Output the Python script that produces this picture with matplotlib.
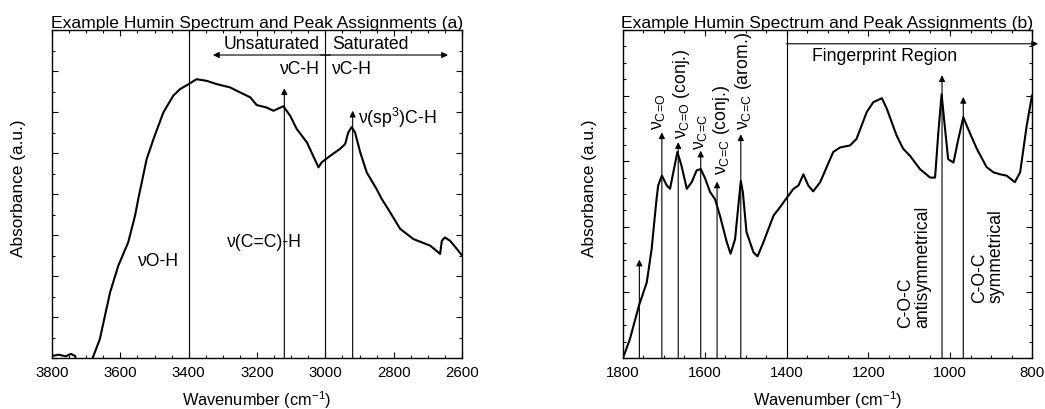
import matplotlib
matplotlib.use("Agg")
import matplotlib.pyplot as plt
from matplotlib.ticker import MultipleLocator, NullFormatter

plt.rcParams['font.family'] = ['Liberation Sans', 'DejaVu Sans']
plt.rcParams['mathtext.fontset'] = 'custom'
plt.rcParams['mathtext.rm'] = 'Liberation Sans'
plt.rcParams['mathtext.it'] = 'Liberation Sans:italic'
plt.rcParams['mathtext.bf'] = 'Liberation Sans:bold'

# ---------------- data: panel (a) ----------------
wn_a = [3800, 3780, 3760, 3745, 3732, 3726, 3690, 3681, 3660, 3630, 3606, 3577, 3557, 3547,
        3523, 3503, 3474, 3445, 3425, 3400, 3377, 3347, 3318, 3279, 3250, 3220, 3201,
        3172, 3152, 3123, 3103, 3084, 3054, 3020, 3011, 2986, 2957, 2942, 2933, 2923,
        2913, 2898, 2879, 2850, 2835, 2816, 2781, 2742, 2693, 2664, 2659, 2650, 2635,
        2615, 2600]
abs_a = [0.05, 0.08, 0.04, 0.1, 0.05, -0.5, -0.5, 0.0, 0.46, 1.6, 2.25, 2.82, 3.47, 3.9,
         4.85, 5.34, 5.99, 6.4, 6.56, 6.68, 6.8, 6.76, 6.68, 6.6, 6.48, 6.36, 6.17,
         6.11, 6.03, 6.14, 5.91, 5.59, 5.26, 4.65, 4.77, 4.93, 5.1, 5.22, 5.5, 5.63,
         5.5, 5.02, 4.53, 4.12, 3.88, 3.63, 3.15, 2.9, 2.74, 2.54, 2.86, 2.94, 2.86,
         2.66, 2.5]

lines_full_a = [3400, 3000]
arrows_a_x = [3120, 2920]
arrows_a_tip = [6.58, 6.03]

# ---------------- data: panel (b) ----------------
wn_b = [1800, 1783, 1761, 1742, 1730, 1722, 1718, 1714, 1705, 1693, 1685, 1677, 1667,
        1657, 1644, 1632, 1620, 1610, 1600, 1587, 1575, 1563, 1546, 1537, 1526, 1518,
        1512, 1507, 1498, 1481, 1471, 1457, 1432, 1416, 1402, 1383, 1371, 1359, 1347,
        1335, 1318, 1286, 1269, 1245, 1229, 1204, 1188, 1167, 1155, 1131, 1115, 1098,
        1074, 1049, 1037, 1029, 1021, 1015, 1005, 992, 980, 968, 956, 935, 911, 894,
        878, 862, 842, 829, 813, 800]
abs_b = [0.0, 0.29, 0.8, 1.15, 1.66, 2.17, 2.42, 2.63, 2.78, 2.63, 2.58, 2.83, 3.14,
         2.93, 2.58, 2.68, 2.86, 2.88, 2.75, 2.53, 2.42, 2.17, 1.76, 1.59, 1.81, 2.32,
         2.7, 2.53, 1.92, 1.61, 1.55, 1.76, 2.17, 2.3, 2.42, 2.58, 2.63, 2.8, 2.63,
         2.54, 2.68, 3.14, 3.21, 3.24, 3.34, 3.75, 3.9, 3.96, 3.8, 3.39, 3.19, 3.08,
         2.88, 2.75, 2.75, 3.44, 4.02, 3.64, 3.03, 2.98, 3.34, 3.67, 3.49, 3.19, 2.91, 2.83,
         2.8, 2.78, 2.68, 2.83, 3.54, 4.0]

line_full_b = 1400
arrows_b_x = [1760, 1705, 1665, 1610, 1570, 1512, 1020, 968]
arrows_b_tip = [1.5, 3.44, 3.29, 3.16, 2.69, 3.41, 4.31, 3.98]

FS = 12.7
fig = plt.figure(figsize=(10.45, 4.10), dpi=100)
axA = fig.add_axes([52/1045, 1-359/410, 410/1045, 328/410])
axB = fig.add_axes([623/1045, 1-359/410, 409/1045, 328/410])


def style(ax, xmin, xmax, ymax, ymaj, ymin_step, title):
    ax.set_xlim(xmin, xmax)
    ax.set_ylim(0, ymax)
    ax.xaxis.set_major_locator(MultipleLocator(200))
    ax.xaxis.set_minor_locator(MultipleLocator(50))
    ax.yaxis.set_major_locator(MultipleLocator(ymaj))
    ax.yaxis.set_minor_locator(MultipleLocator(ymin_step))
    ax.yaxis.set_major_formatter(NullFormatter())
    ax.tick_params(which='both', direction='in', top=True, right=True, width=0.8)
    ax.tick_params(which='major', length=4.2, pad=5, labelsize=10.8)
    ax.tick_params(which='minor', length=2.4)
    for s in ax.spines.values():
        s.set_linewidth(1.0)
    ax.set_xlabel('Wavenumber (cm$^{-1}$)', fontsize=11.8)
    ax.set_ylabel('Absorbance (a.u.)', fontsize=12.4)
    ax.xaxis.set_label_coords(0.5, -0.093)
    ax.yaxis.set_label_coords(-0.063, 0.52)
    ax.set_title(title, fontsize=12.6, pad=1.5)


def arrow(ax, x0, y0, x1, y1, style='-|>', clip=True):
    ax.annotate('', xy=(x1, y1), xytext=(x0, y0),
                arrowprops=dict(arrowstyle=style, lw=0.8, color='k',
                                mutation_scale=9, shrinkA=0, shrinkB=0),
                annotation_clip=clip)

# ---- panel (a)
style(axA, 3800, 2600, 8, 1, 0.5, 'Example Humin Spectrum and Peak Assignments (a)')
axA.plot(wn_a, abs_a, color='k', lw=1.5)
for x in lines_full_a:
    axA.axvline(x, color='k', lw=0.8)
for x, t in zip(arrows_a_x, arrows_a_tip):
    arrow(axA, x, 0, x, t)
arrow(axA, 2985, 7.39, 3329, 7.39)
arrow(axA, 3015, 7.39, 2641, 7.39)
axA.text(3016, 7.66, 'Unsaturated', ha='right', va='center', fontsize=FS)
axA.text(2980, 7.66, 'Saturated', ha='left', va='center', fontsize=FS)
axA.text(3016, 7.05, 'νC-H', ha='right', va='center', fontsize=FS)
axA.text(2980, 7.05, 'νC-H', ha='left', va='center', fontsize=FS)
axA.text(2904, 5.88, 'ν(sp$^3$)C-H', ha='left', va='center', fontsize=FS)
axA.text(3487, 2.37, 'νO-H', ha='center', va='center', fontsize=FS)
axA.text(3177, 2.83, 'ν(C=C)-H', ha='center', va='center', fontsize=FS)

# ---- panel (b)
style(axB, 1800, 800, 5, 1, 0.25, 'Example Humin Spectrum and Peak Assignments (b)')
axB.yaxis.set_label_coords(-0.064, 0.52)
axB.plot(wn_b, abs_b, color='k', lw=1.5)
axB.axvline(line_full_b, color='k', lw=0.8)
for x, t in zip(arrows_b_x, arrows_b_tip):
    arrow(axB, x, 0, x, t)
arrow(axB, 1400, 4.79, 785, 4.79, clip=False)
axB.text(1339, 4.61, 'Fingerprint Region', ha='left', va='center', fontsize=FS)
rot_texts = [(1714, 3.49, 'ν$_{\\mathrm{C\\!=\\!O}}$'),
             (1658, 3.36, 'ν$_{\\mathrm{C\\!=\\!O}}$ (conj.)'),
             (1610, 3.19, 'ν$_{\\mathrm{C\\!=\\!C}}$'),
             (1560, 2.80, 'ν$_{\\mathrm{C\\!=\\!C}}$ (conj.)'),
             (1506, 3.49, 'ν$_{\\mathrm{C\\!=\\!C}}$ (arom.)')]
for x, y, s in rot_texts:
    axB.text(x, y, s, rotation=90, ha='center', va='bottom', fontsize=FS)
axB.text(1088, 0.47, 'C-O-C\nantisymmetrical', rotation=90, ha='center', va='bottom',
         multialignment='left', fontsize=FS, linespacing=1.0)
axB.text(908, 0.85, 'C-O-C\nsymmetrical', rotation=90, ha='center', va='bottom',
         multialignment='left', fontsize=FS, linespacing=1.0)

fig.savefig('out.png', dpi=100)
